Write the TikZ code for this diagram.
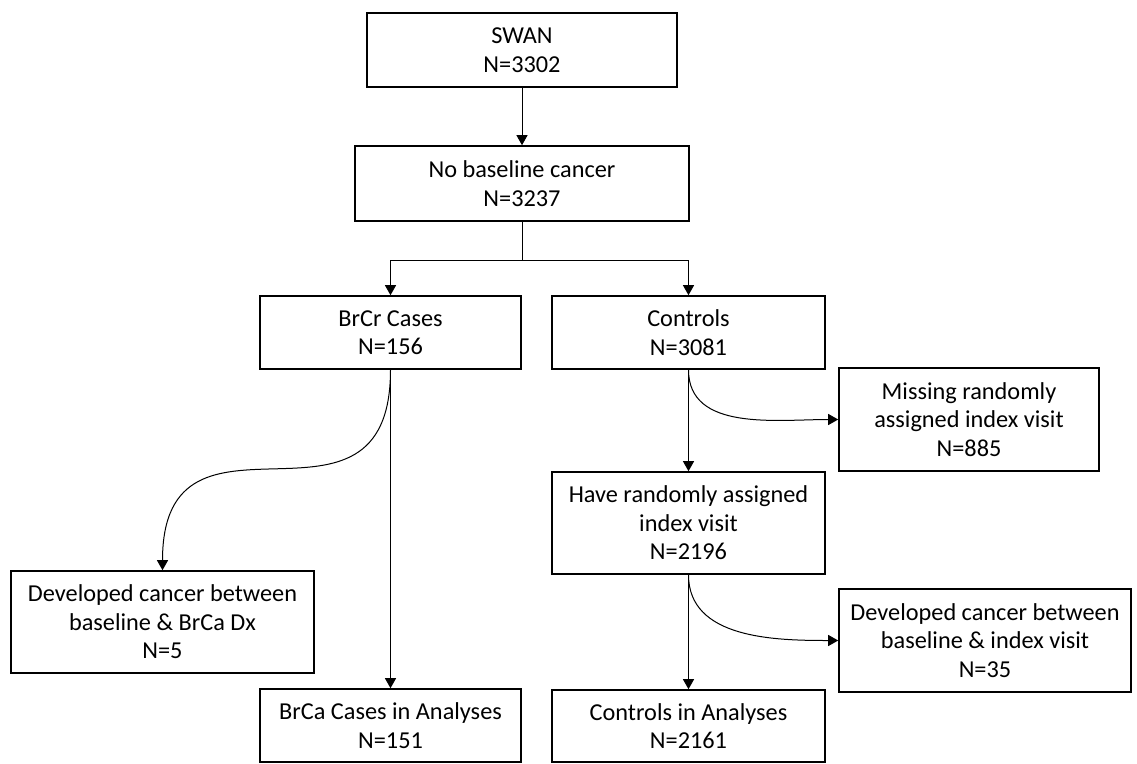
\documentclass[tikz,border=0pt]{standalone}
\usepackage{fontspec}
\setmainfont{Carlito}
\usetikzlibrary{arrows.meta}
\tikzset{
  box/.style={draw=black, line width=1.6pt, fill=white, align=center, inner sep=2pt,
    font=\fontsize{24.3}{28.5}\selectfont},
  conn/.style={draw=black, line width=1pt, -{Triangle[length=10pt,width=11pt]}},
  plain/.style={draw=black, line width=1pt}
}
\begin{document}
\begin{tikzpicture}[x=1pt,y=-1pt]
\useasboundingbox[fill=white] (0,0) rectangle (1137,763);
\node[box, minimum width=310pt, minimum height=74pt] (swan) at (522,50) {SWAN\\N=3302};
\node[box, minimum width=334pt, minimum height=75pt] (nobase) at (522,183.5) {No baseline cancer\\N=3237};
\node[box, minimum width=261pt, minimum height=73pt] (brcr) at (390.5,332.5) {BrCr Cases\\N=156};
\node[box, minimum width=273pt, minimum height=73pt] (ctrl) at (688.5,332.5) {Controls\\N=3081};
\node[box, minimum width=260pt, minimum height=103pt] (miss) at (969,419.5) {Missing randomly\\assigned index visit\\N=885};
\node[box, minimum width=273pt, minimum height=102pt] (have) at (688.5,523) {Have randomly assigned\\index visit\\N=2196};
\node[box, minimum width=303pt, minimum height=102pt] (devL) at (162.5,622) {Developed cancer between\\baseline \& BrCa Dx\\N=5};
\node[box, minimum width=292pt, minimum height=103pt] (devR) at (985,640.5) {Developed cancer between\\baseline \& index visit\\N=35};
\node[box, minimum width=261pt, minimum height=73pt] (brcaA) at (390.5,725.5) {BrCa Cases in Analyses\\N=151};
\node[box, minimum width=273pt, minimum height=72pt] (ctrlA) at (688.5,726) {Controls in Analyses\\N=2161};

\coordinate (split) at (522,260);
\draw[conn] (swan) -- (nobase);
\draw[plain] (nobase) -- (split);
\draw[conn] (split) -| (brcr);
\draw[conn] (split) -| (ctrl);
\draw[conn] (brcr) -- (brcaA);
\draw[conn] (brcr.south) to[out=-90, in=90, looseness=1.6] (devL.north);
\draw[conn] (ctrl) -- (have);
\draw[conn] (ctrl.south) to[out=-90, in=180] (miss.west);
\draw[conn] (have) -- (ctrlA);
\draw[conn] (have.south) to[out=-90, in=180] (devR.west);
\end{tikzpicture}
\end{document}
